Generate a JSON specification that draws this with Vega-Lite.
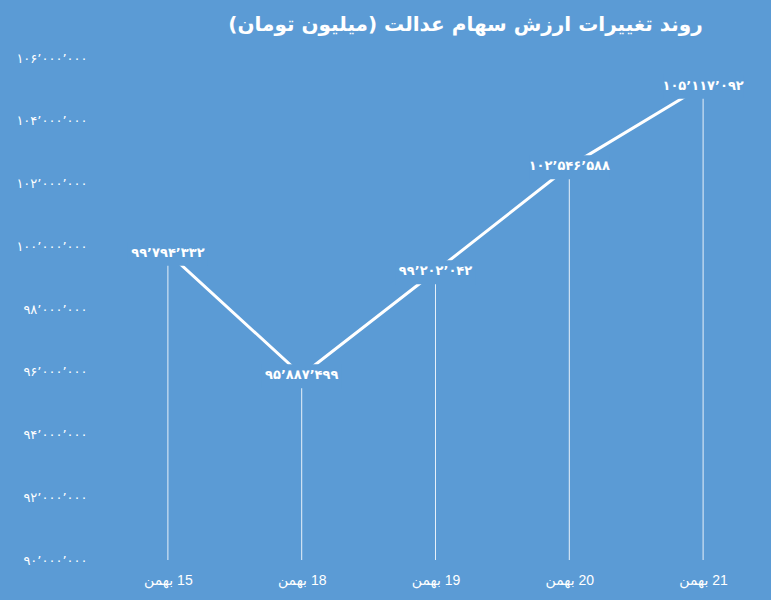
{
  "$schema": "https://vega.github.io/schema/vega-lite/v6.json",
  "width": 669,
  "height": 502,
  "autosize": {"type": "none"},
  "padding": {"left": 101, "top": 58, "right": 1, "bottom": 40},
  "background": "#5B9BD5",
  "view": {"stroke": null},
  "title": {
    "text": "روند تغییرات ارزش سهام عدالت (میلیون تومان)",
    "font": "DejaVu Sans",
    "fontSize": 20,
    "fontWeight": "bold",
    "color": "white",
    "anchor": "middle",
    "dx": 30,
    "offset": 17
  },
  "data": {
    "values": [
      {"day": "\u200f15 بهمن", "value": 99794332, "label": "۹۹٬۷۹۴٬۳۳۲"},
      {"day": "\u200f18 بهمن", "value": 95887499, "label": "۹۵٬۸۸۷٬۴۹۹"},
      {"day": "\u200f19 بهمن", "value": 99202042, "label": "۹۹٬۲۰۲٬۰۴۲"},
      {"day": "\u200f20 بهمن", "value": 102546588, "label": "۱۰۲٬۵۴۶٬۵۸۸"},
      {"day": "\u200f21 بهمن", "value": 105117092, "label": "۱۰۵٬۱۱۷٬۰۹۲"}
    ]
  },
  "encoding": {
    "x": {
      "field": "day",
      "type": "ordinal",
      "sort": null,
      "scale": {"type": "point", "padding": 0.5},
      "axis": {
        "title": null,
        "domain": false,
        "ticks": false,
        "grid": false,
        "labelAngle": 0,
        "labelColor": "white",
        "labelFont": "Liberation Sans, DejaVu Sans",
        "labelFontSize": 14,
        "labelPadding": 13
      }
    },
    "y": {
      "field": "value",
      "type": "quantitative",
      "scale": {"domain": [90000000, 106000000], "nice": false, "zero": false},
      "axis": {
        "title": null,
        "domain": false,
        "ticks": false,
        "grid": false,
        "values": [90000000, 92000000, 94000000, 96000000, 98000000, 100000000, 102000000, 104000000, 106000000],
        "labelColor": "white",
        "labelFont": "DejaVu Sans",
        "labelFontSize": 13,
        "labelPadding": 14,
        "labelExpr": "replace(replace(replace(replace(replace(replace(replace(replace(replace(replace(replace(format(datum.value, ','), regexp('0','g'), '۰'), regexp('1','g'), '۱'), regexp('2','g'), '۲'), regexp('3','g'), '۳'), regexp('4','g'), '۴'), regexp('5','g'), '۵'), regexp('6','g'), '۶'), regexp('7','g'), '۷'), regexp('8','g'), '۸'), regexp('9','g'), '۹'), regexp(',','g'), '٬')"
      }
    }
  },
  "layer": [
    {
      "mark": {"type": "rule", "color": "white", "strokeWidth": 1, "opacity": 0.85},
      "encoding": {"y2": {"datum": 90000000}}
    },
    {
      "mark": {"type": "line", "color": "white", "strokeWidth": 3}
    },
    {
      "mark": {
        "type": "point",
        "shape": "M-1,-0.3L1,-0.3L1,0.3L-1,0.3Z",
        "size": 6400,
        "filled": true,
        "fill": "#5B9BD5",
        "stroke": null,
        "opacity": 1,
        "yOffset": 1
      }
    },
    {
      "mark": {
        "type": "text",
        "color": "white",
        "font": "DejaVu Sans",
        "fontSize": 13,
        "fontWeight": "bold",
        "baseline": "middle",
        "align": "center"
      },
      "encoding": {"text": {"field": "label"}}
    }
  ]
}
